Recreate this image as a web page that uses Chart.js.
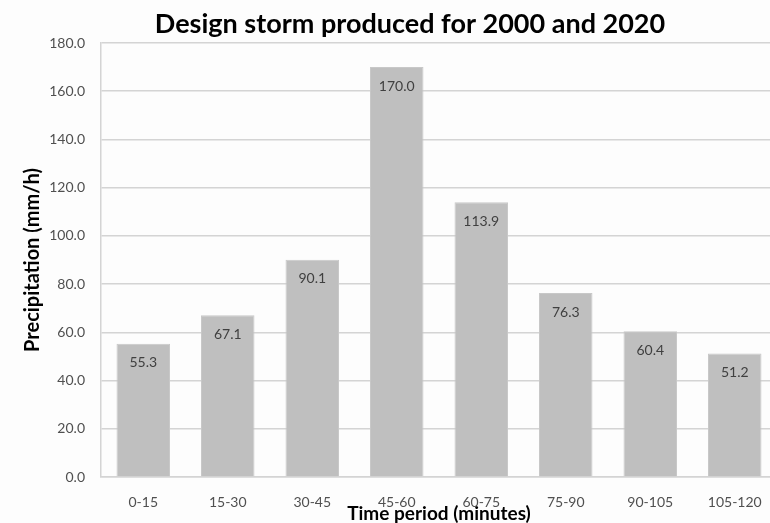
<!DOCTYPE html>
<html>
<head>
<meta charset="utf-8">
<script src="https://cdn.jsdelivr.net/npm/chart.js@4.4.1/dist/chart.umd.min.js"></script>
<style>
  html, body { margin: 0; padding: 0; background: #fdfdfd; overflow: hidden; }
  #wrap { width: 820px; height: 523px; }
</style>
</head>
<body>
<div id="wrap"><canvas id="chart" width="820" height="523"></canvas></div>
<script>
// Rainfall intensity for each 15-minute block of the design storm
const periods = ['0-15', '15-30', '30-45', '45-60', '60-75', '75-90', '90-105', '105-120'];
const precipitation = [55.3, 67.1, 90.1, 170.0, 113.9, 76.3, 60.4, 51.2];
const heading = 'Design storm produced for 2000 and 2020';

const FONT = 'Lato, "Open Sans", "DejaVu Sans", sans-serif';

// Chart heading, drawn above the plot
const chartHeading = {
  id: 'chartHeading',
  afterDraw(chart) {
    const { ctx } = chart;
    ctx.save();
    ctx.font = 'bold 27px ' + FONT;
    ctx.fillStyle = '#000000';
    ctx.textAlign = 'center';
    ctx.textBaseline = 'alphabetic';
    ctx.fillText(heading, 410, 33);
    ctx.restore();
  }
};

// Writes each bar's value just inside its top edge
const barValueLabels = {
  id: 'barValueLabels',
  afterDatasetsDraw(chart) {
    const { ctx } = chart;
    const meta = chart.getDatasetMeta(0);
    ctx.save();
    ctx.font = '14px ' + FONT;
    ctx.fillStyle = '#404040';
    ctx.textAlign = 'center';
    ctx.textBaseline = 'middle';
    meta.data.forEach((bar, i) => {
      ctx.fillText(precipitation[i].toFixed(1), bar.x, bar.y + 19);
    });
    ctx.restore();
  }
};

new Chart(document.getElementById('chart'), {
  type: 'bar',
  data: {
    labels: periods,
    datasets: [{
      data: precipitation,
      backgroundColor: '#bfbfbf',
      borderColor: '#c8c8c8',
      borderWidth: 1,
      categoryPercentage: 1.0,
      barPercentage: 0.633
    }]
  },
  options: {
    responsive: false,
    animation: false,
    devicePixelRatio: 1,
    layout: { padding: { left: 0, right: 43, top: 43, bottom: 0 } },
    plugins: {
      legend: { display: false },
      tooltip: { enabled: false },
      title: { display: false }
    },
    scales: {
      x: {
        grid: { drawOnChartArea: false, drawTicks: false },
        border: { display: true, color: '#d4d4d4', width: 1.5 },
        ticks: { color: '#505050', font: { family: FONT, size: 14 }, padding: 17, maxRotation: 0 },
        title: {
          display: true,
          text: 'Time period (minutes)',
          color: '#000000',
          font: { family: FONT, size: 19, weight: 'bold', lineHeight: 1 },
          padding: { top: 0, bottom: 0 }
        },
        afterFit(scale) { scale.height = 46; }
      },
      y: {
        min: 0,
        max: 180,
        grid: { color: '#d4d4d4', lineWidth: 1.5, drawTicks: false },
        border: { display: true, color: '#d4d4d4', width: 1.5 },
        ticks: {
          stepSize: 20,
          color: '#505050',
          font: { family: FONT, size: 14 },
          padding: 16,
          callback: v => Number(v).toFixed(1)
        },
        title: {
          display: true,
          text: 'Precipitation (mm/h)',
          color: '#000000',
          font: { family: FONT, size: 20, weight: 'bold', lineHeight: 1 },
          padding: { top: 23, bottom: 0 }
        },
        afterFit(scale) { scale.width = 101; }
      }
    }
  },
  plugins: [barValueLabels, chartHeading]
});
</script>
</body>
</html>
